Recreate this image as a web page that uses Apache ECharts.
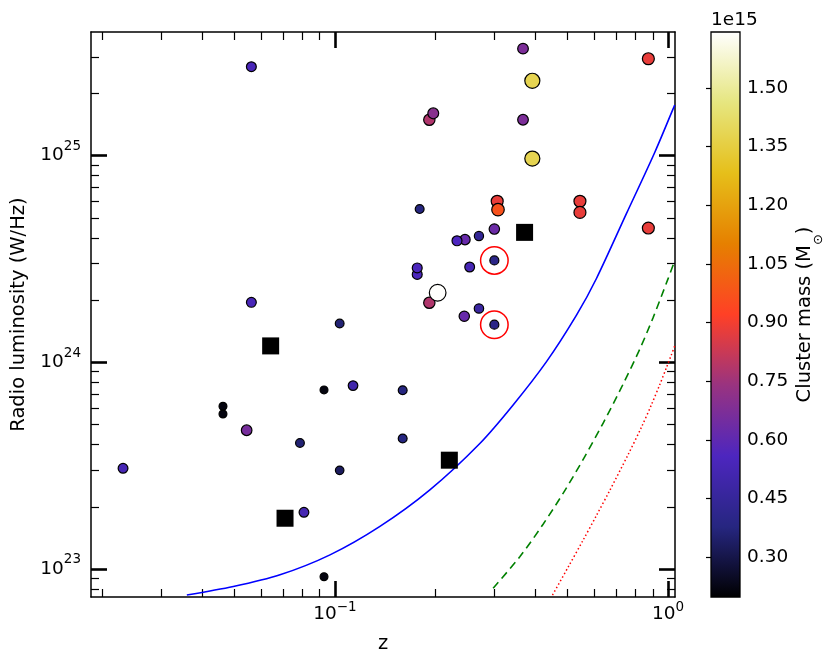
<!DOCTYPE html>
<html>
<head>
<meta charset="utf-8">
<script src="https://cdn.jsdelivr.net/npm/echarts@6/dist/echarts.min.js"></script>
<style>
  html, body { margin: 0; padding: 0; background: #fff; }
  #chart { width: 830px; height: 667px; }
</style>
</head>
<body>
<div id="chart"></div>
<script>
// cluster points: redshift, radio luminosity (W/Hz), mass (1e15 Msun)
const clusterZ = [0.0231, 0.0461, 0.0461, 0.0543, 0.0561, 0.0561, 0.0785, 0.0807, 0.0927, 0.0927,
  0.1033, 0.1033, 0.1133, 0.1597, 0.1597, 0.1766, 0.1766, 0.1796, 0.192, 0.1973,
  0.192, 0.2034, 0.2457, 0.2325, 0.2445, 0.2538, 0.2706, 0.2706, 0.301, 0.301,
  0.301, 0.307, 0.3087, 0.367, 0.367, 0.3914, 0.3914, 0.544, 0.544, 0.873, 0.873]
const clusterLum = [3.07e23, 6.13e23, 5.62e23, 4.69e23, 2.69e25, 1.95e24, 4.07e23, 1.88e23, 7.35e23, 9.18e22,
  1.54e24, 3.00e23, 7.71e23, 7.32e23, 4.28e23, 2.66e24, 2.86e24, 5.51e24, 1.49e25, 1.60e25,
  1.94e24, 2.17e24, 3.92e24, 3.87e24, 1.67e24, 2.89e24, 4.08e24, 1.82e24, 4.41e24, 3.11e24,
  1.52e24, 6.01e24, 5.47e24, 3.29e25, 1.49e25, 2.30e25, 9.67e24, 6.01e24, 5.31e24, 2.94e25, 4.46e24]
const clusterMass = [0.53, 0.22, 0.22, 0.66, 0.54, 0.54, 0.36, 0.52, 0.22, 0.22,
  0.36, 0.33, 0.50, 0.38, 0.38, 0.55, 0.55, 0.38, 0.78, 0.70,
  0.78, 1.64, 0.62, 0.56, 0.62, 0.53, 0.44, 0.47, 0.63, 0.40,
  0.40, 0.88, 0.97, 0.67, 0.67, 1.38, 1.38, 0.88, 0.88, 0.88, 0.88]

// clusters without mass (black squares)
const squareZ = [0.0641, 0.0708, 0.2205, 0.371]
const squareLum = [1.20e24, 1.76e23, 3.36e23, 4.25e24]

// highlighted clusters (red rings)
const ringZ = [0.301, 0.301]
const ringLum = [3.11e24, 1.52e24]

// detection limit curves
const blueZ = [0.03591, 0.04953, 0.06839, 0.09661, 0.13646, 0.19275, 0.27227, 0.34276, 0.43174,
  0.53114, 0.60977, 0.75011, 0.91224, 1.0351, 1.0474]
const blueLum = [7.48e22, 8.22e22, 9.37e22, 1.170e23, 1.607e23, 2.414e23, 4.047e23, 6.215e23, 1.007e24,
  1.690e24, 2.543e24, 5.235e24, 1.035e25, 1.677e25, 1.757e25]
const greenZ = [0.2985, 0.35892, 0.4217, 0.4899, 0.56247, 0.63826, 0.73282, 0.82247, 0.90157, 1.0001, 1.0474]
const greenLum = [8.07e22, 1.146e23, 1.647e23, 2.395e23, 3.498e23, 5.07e23, 7.83e23, 1.157e24, 1.640e24, 2.532e24, 3.097e24]
const redZ = [0.44996, 0.50119, 0.5559, 0.60977, 0.66849, 0.75858, 0.8322, 0.89172, 0.9443, 0.98901, 1.02376, 1.0474]
const redLum = [7.48e22, 1.020e23, 1.378e23, 1.815e23, 2.398e23, 3.569e23, 4.85e23, 6.23e23, 7.78e23, 9.41e23, 1.087e24, 1.198e24]

// axes
const X_MIN = 0.01851
const X_MAX = 1.0496
const Y_MIN = 7.32e22
const Y_MAX = 3.96e25
const xMajor = [0.1, 1]
const xMinor = [0.02, 0.03, 0.04, 0.05, 0.06, 0.07, 0.08, 0.09, 0.2, 0.3, 0.4, 0.5, 0.6, 0.7, 0.8, 0.9]
const yMajor = [1e23, 1e24, 1e25]
const yMinor = [8e22, 9e22, 2e23, 3e23, 4e23, 5e23, 6e23, 7e23, 8e23, 9e23,
  2e24, 3e24, 4e24, 5e24, 6e24, 7e24, 8e24, 9e24, 2e25, 3e25]
const CB_MIN = 0.198
const CB_MAX = 1.643
const cbTicks = [0.30, 0.45, 0.60, 0.75, 0.90, 1.05, 1.20, 1.35, 1.50]

// CMRmap
const cmrColors = ['#000000', '#262680', '#4d26bf', '#993380', '#ff4026', '#e68000', '#e6bf1a', '#e6e680', '#ffffff']

const FONT = 'DejaVu Sans'
const black = '#000'

let myChart = echarts.init(document.getElementById('chart'))

// 10^n 标签
let fmtPow = function (v) {
  let e = Math.round(Math.log10(v))
  return '{b|10}{s|' + (e < 0 ? '\u2212' + -e : e) + '}'
}
let powRich = function (lh) {
  return {
    b: { fontSize: 18.5, fontFamily: FONT, color: black, lineHeight: lh, verticalAlign: 'middle' },
    s: { fontSize: 13.5, fontFamily: FONT, color: black, verticalAlign: 'top' },
  }
}

// one axis per tick set and side
let logAxis = function (dim, pos, ticks, len, width, extra) {
  let ax = {
    gridIndex: 0,
    type: 'log',
    position: pos,
    min: dim === 'x' ? X_MIN : Y_MIN,
    max: dim === 'x' ? X_MAX : Y_MAX,
    axisLine: { show: false, onZero: false, lineStyle: { color: black, width: 1.5 } },
    axisTick: {
      show: true,
      inside: true,
      length: len,
      customValues: ticks,
      lineStyle: { color: black, width: width },
    },
    axisLabel: { show: false },
    splitLine: { show: false },
    minorTick: { show: false },
  }
  return Object.assign(ax, extra || {})
}

let xAxes = [
  logAxis('x', 'bottom', xMinor, 8, 1.2, {
    axisLine: { show: true, onZero: false, lineStyle: { color: black, width: 1.5 } },
    axisLabel: {
      show: true,
      customValues: xMajor,
      formatter: fmtPow,
      margin: 3.5,
      rich: powRich(28),
    },
    name: 'z',
    nameLocation: 'middle',
    nameGap: 37,
    nameTextStyle: { fontSize: 19.5, fontFamily: FONT, color: black },
  }),
  logAxis('x', 'bottom', xMajor, 16, 2.6),
  logAxis('x', 'top', xMinor, 8, 1.2, {
    axisLine: { show: true, onZero: false, lineStyle: { color: black, width: 1.5 } },
  }),
  logAxis('x', 'top', xMajor, 16, 2.6),
  {
    gridIndex: 1,
    type: 'value',
    min: 0,
    max: 1,
    show: false,
  },
]

let yAxes = [
  logAxis('y', 'left', yMinor, 8, 1.2, {
    axisLine: { show: true, onZero: false, lineStyle: { color: black, width: 1.5 } },
    axisLabel: {
      show: true,
      customValues: yMajor,
      formatter: fmtPow,
      margin: 10,
      rich: powRich(32),
    },
    name: 'Radio luminosity (W/Hz)',
    nameLocation: 'middle',
    nameGap: 56,
    nameTextStyle: { fontSize: 19.5, fontFamily: FONT, color: black },
  }),
  logAxis('y', 'left', yMajor, 16, 2.6),
  logAxis('y', 'right', yMinor, 8, 1.2, {
    axisLine: { show: true, onZero: false, lineStyle: { color: black, width: 1.5 } },
  }),
  logAxis('y', 'right', yMajor, 16, 2.6),
  {
    gridIndex: 1,
    type: 'value',
    position: 'right',
    min: CB_MIN,
    max: CB_MAX,
    axisLine: { show: false },
    axisTick: {
      show: true,
      inside: true,
      length: 5,
      customValues: cbTicks,
      lineStyle: { color: black, width: 1.2 },
    },
    axisLabel: {
      show: true,
      customValues: cbTicks,
      margin: 7,
      fontSize: 18.5,
      fontFamily: FONT,
      color: black,
      formatter: (v) => v.toFixed(2),
    },
    splitLine: { show: false },
    name: '{m|Cluster mass (M}{sub|\u2299}{m|)}',
    nameLocation: 'middle',
    nameRotate: 90,
    nameGap: 55,
    nameTextStyle: {
      rich: {
        m: { fontSize: 19.5, fontFamily: FONT, color: black, lineHeight: 30, verticalAlign: 'top' },
        sub: { fontSize: 13, fontFamily: FONT, color: black, verticalAlign: 'bottom' },
      },
    },
  },
]

let zip = (xs, ys) => xs.map((x, i) => [x, ys[i]])

let option = {
  animation: false,
  backgroundColor: '#fff',
  title: {
    text: '1e15',
    left: 711,
    top: 11,
    padding: 0,
    textStyle: { fontSize: 18.5, fontFamily: FONT, fontWeight: 'normal', color: black },
  },
  grid: [
    { left: 91, top: 32, width: 584, height: 565 },
    {
      left: 711,
      top: 32,
      width: 29,
      height: 565,
      show: true,
      borderColor: black,
      borderWidth: 1.3,
      backgroundColor: {
        type: 'linear',
        x: 0,
        y: 1,
        x2: 0,
        y2: 0,
        colorStops: cmrColors.map((c, i) => ({ offset: i / 8, color: c })),
      },
    },
  ],
  xAxis: xAxes,
  yAxis: yAxes,
  visualMap: {
    show: false,
    type: 'continuous',
    seriesIndex: 0,
    dimension: 2,
    min: CB_MIN,
    max: CB_MAX,
    inRange: { color: cmrColors },
  },
  series: [
    {
      type: 'scatter',
      xAxisIndex: 0,
      yAxisIndex: 0,
      data: clusterZ.map((z, i) => [z, clusterLum[i], clusterMass[i]]),
      symbol: 'circle',
      symbolSize: (val) => 6.5 + 6.2 * val[2],
      itemStyle: { borderColor: black, borderWidth: 1.2, opacity: 1 },
      z: 3,
    },
    {
      type: 'scatter',
      xAxisIndex: 0,
      yAxisIndex: 0,
      data: zip(squareZ, squareLum),
      symbol: 'rect',
      symbolSize: 17,
      itemStyle: { color: black, opacity: 1 },
      z: 3,
    },
    {
      type: 'scatter',
      xAxisIndex: 0,
      yAxisIndex: 0,
      data: zip(ringZ, ringLum),
      symbol: 'circle',
      symbolSize: 27.5,
      itemStyle: { color: 'rgba(0,0,0,0)', borderColor: '#ff0000', borderWidth: 1.5, opacity: 1 },
      z: 4,
    },
    {
      type: 'line',
      xAxisIndex: 0,
      yAxisIndex: 0,
      data: zip(blueZ, blueLum),
      showSymbol: false,
      smooth: 0.3,
      clip: true,
      lineStyle: { color: '#0000ff', width: 1.6 },
      z: 2,
    },
    {
      type: 'line',
      xAxisIndex: 0,
      yAxisIndex: 0,
      data: zip(greenZ, greenLum),
      showSymbol: false,
      smooth: 0.3,
      clip: true,
      lineStyle: { color: '#008000', width: 1.6, type: [8, 5] },
      z: 2,
    },
    {
      type: 'line',
      xAxisIndex: 0,
      yAxisIndex: 0,
      data: zip(redZ, redLum),
      showSymbol: false,
      smooth: 0.3,
      clip: true,
      lineStyle: { color: '#ff0000', width: 1.5, type: [1.5, 2.5] },
      z: 2,
    },
  ],
}
myChart.setOption(option)
</script>
</body>
</html>
